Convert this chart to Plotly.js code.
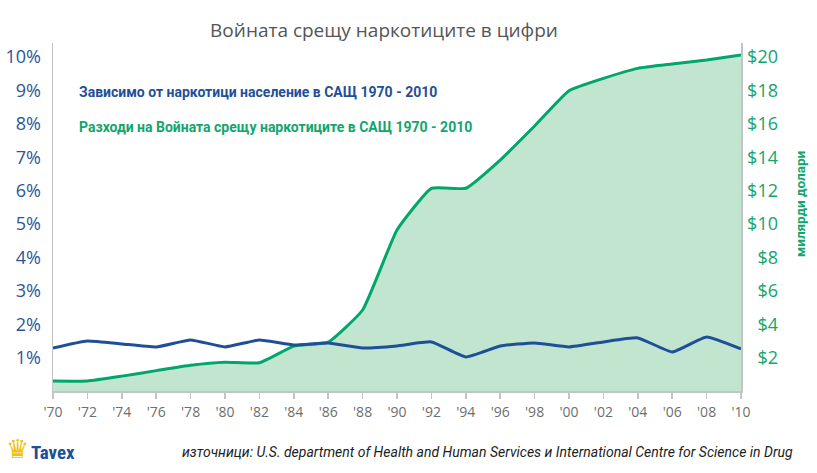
<!DOCTYPE html>
<html>
<head>
<meta charset="utf-8">
<script src="https://cdn.plot.ly/plotly-3.0.1.min.js"></script>
<style>html,body{margin:0;padding:0;background:#fff;}#chart{width:817px;height:473px;}</style>
</head>
<body>
<div id="chart"></div>
<script>
// Data
const years = [1970,1972,1974,1976,1978,1980,1982,1984,1986,1988,1990,1992,1994,1996,1998,2000,2002,2004,2006,2008,2010];
const dependentPct = [1.29,1.50,1.41,1.32,1.53,1.32,1.53,1.38,1.44,1.29,1.35,1.47,1.02,1.35,1.44,1.32,1.47,1.59,1.17,1.62,1.26];
const spendingBn = [0.60,0.60,0.89,1.22,1.54,1.72,1.69,2.69,2.93,4.85,9.64,12.14,12.14,13.83,15.87,17.98,18.72,19.32,19.58,19.82,20.12];
const xTickVals = [1970,1972,1974,1976,1978,1980,1982,1984,1986,1988,1990,1992,1994,1996,1998,2000,2002,2004,2006,2008,2010];
const xTickText = ["'70","'72","'74","'76","'78","'80","'82","'84","'86","'88","'90","'92","'94","'96","'98","'00","'02","'04","'06","'08","'10"];
const leftTickVals = [1,2,3,4,5,6,7,8,9,10];
const leftTickText = ["1%","2%","3%","4%","5%","6%","7%","8%","9%","10%"];
const rightTickVals = [2,4,6,8,10,12,14,16,18,20];
const rightTickText = ["\u2007$2","\u2007$4","\u2007$6","\u2007$8","$10","$12","$14","$16","$18","$20"];

const title = "Войната срещу наркотиците в цифри";
const labelDependent = "Зависимо от наркотици население в САЩ 1970 - 2010";
const labelSpending = "Разходи на Войната срещу наркотиците в САЩ 1970 - 2010";
const rightAxisTitle = "милярди долари";
const sourceText = "източници: U.S. department of Health and Human Services и International Centre for Science in Drug";

const BLUE = "#1f4f99";
const GREEN = "#00a66b";
const GREEN_TXT = "#12a56c";
const FILL = "#c1e5cf";
const AXIS = "#c4c4c4";

// Spending (dollars) on the base axis 'y' (drawn on the right); dependency (%) on overlay 'y2' (drawn on the left, on top)
const traces = [
  {
    x: years, y: spendingBn, yaxis: "y", type: "scatter", mode: "lines",
    line: {color: GREEN, width: 3, shape: "spline", smoothing: 0.4},
    fill: "tozeroy", fillcolor: FILL, hoverinfo: "skip", showlegend: false
  },
  {
    x: years, y: dependentPct, yaxis: "y2", type: "scatter", mode: "lines",
    line: {color: BLUE, width: 3, shape: "spline", smoothing: 0.4},
    hoverinfo: "skip", showlegend: false
  }
];

const layout = {
  width: 817, height: 473,
  margin: {l: 53, r: 76, t: 43, b: 82},
  paper_bgcolor: "#ffffff", plot_bgcolor: "#ffffff",
  font: {family: "Open Sans, sans-serif"},
  title: {
    text: title, x: 384/817, xref: "container", xanchor: "center",
    y: 1 - 30/473, yref: "container", yanchor: "middle",
    font: {family: "Open Sans, sans-serif", size: 19, color: "#555555"}
  },
  xaxis: {
    range: [1970, 2010], tickvals: xTickVals, ticktext: xTickText,
    showgrid: false, zeroline: false, showline: true, linecolor: AXIS, linewidth: 2,
    ticks: "outside", ticklen: 6, tickwidth: 1.5, tickcolor: AXIS,
    ticklabelstandoff: 1,
    tickfont: {family: "Open Sans, sans-serif", size: 14, color: "#6e6e6e"},
    fixedrange: true
  },
  yaxis: {
    range: [0, 20.84], side: "right",
    tickvals: rightTickVals, ticktext: rightTickText,
    showgrid: false, zeroline: false, showline: true, linecolor: AXIS, linewidth: 1.5,
    ticks: "", ticklabelstandoff: 1,
    tickfont: {family: "Open Sans, sans-serif", size: 18, color: GREEN_TXT},
    fixedrange: true
  },
  yaxis2: {
    range: [0, 10.42], overlaying: "y", side: "left",
    tickvals: leftTickVals, ticktext: leftTickText,
    showgrid: false, zeroline: false, showline: true, linecolor: AXIS, linewidth: 1.5,
    ticks: "", ticklabelstandoff: 7,
    tickfont: {family: "Open Sans, sans-serif", size: 18, color: "#2b5797"},
    fixedrange: true
  },
  annotations: [
    {text: labelDependent, xref: "paper", yref: "paper", x: (77-53)/688, y: (391-92)/348,
     xanchor: "left", yanchor: "middle", showarrow: false,
     font: {family: "Roboto, sans-serif", size: 14, color: BLUE, weight: "bold"}},
    {text: labelSpending, xref: "paper", yref: "paper", x: (77-53)/688, y: (391-127)/348,
     xanchor: "left", yanchor: "middle", showarrow: false,
     font: {family: "Roboto, sans-serif", size: 14, color: GREEN_TXT, weight: "bold"}},
    {text: rightAxisTitle, xref: "paper", yref: "paper", x: (800-53)/688, y: (391-204)/348,
     xanchor: "center", yanchor: "middle", showarrow: false, textangle: -90,
     font: {family: "Roboto, sans-serif", size: 13.5, color: GREEN_TXT, weight: "bold"}},
    {text: "<i>" + sourceText + "</i>", xref: "paper", yref: "paper", x: (795-53)/688, y: (391-452)/348,
     xanchor: "right", yanchor: "middle", showarrow: false,
     font: {family: "Roboto, sans-serif", size: 14, color: "#222222"}},
    {text: "Tavex", xref: "paper", yref: "paper", x: (29-53)/688, y: (391-452)/348,
     xanchor: "left", yanchor: "middle", showarrow: false,
     font: {family: "Roboto Condensed, Roboto, sans-serif", size: 19, color: "#1f4f99", weight: "bold"}},
    {text: "♛", xref: "paper", yref: "paper", x: (17-53)/688, y: (391-449)/348,
     xanchor: "center", yanchor: "middle", showarrow: false,
     font: {family: "DejaVu Sans, sans-serif", size: 26, color: "#f2c200"}}
  ]
};

Plotly.newPlot("chart", traces, layout, {displayModeBar: false, staticPlot: true});
</script>
</body>
</html>
